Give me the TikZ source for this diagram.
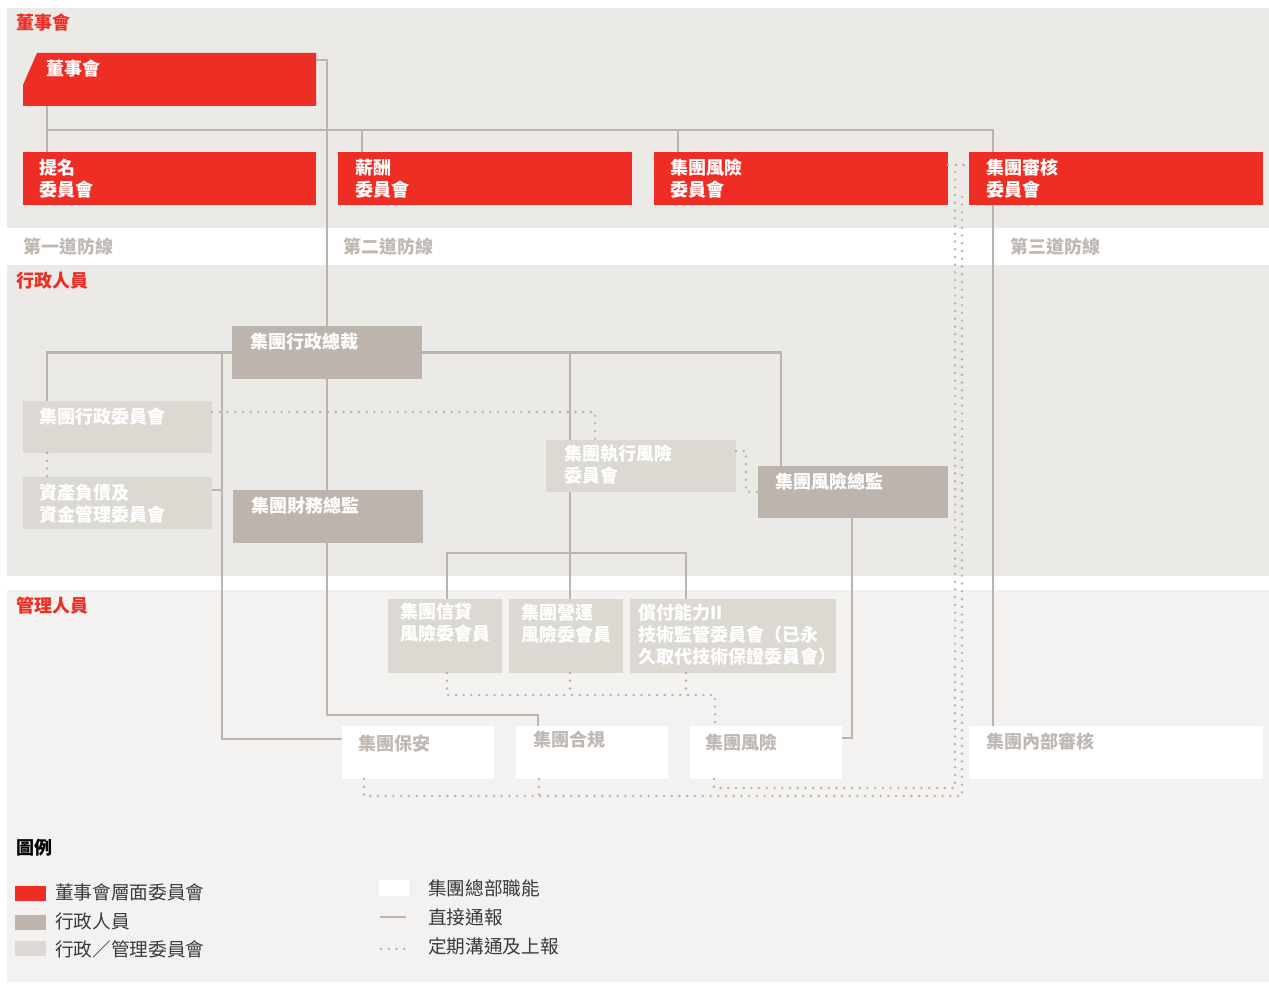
\documentclass[tikz,border=0pt]{standalone}
\usepackage{fontspec}
\setmainfont{Noto Sans CJK TC}
\usetikzlibrary{fit}

\definecolor{boardred}{HTML}{EE2E24}
\definecolor{execgray}{HTML}{BDB4AE}
\definecolor{commgray}{HTML}{DCD9D3}
\definecolor{bandgray}{HTML}{ECEAE6}
\definecolor{mgmtgray}{HTML}{F3F2F0}
\definecolor{linegray}{HTML}{BDB4AE}
\definecolor{dotgray}{HTML}{B8B0AA}
\definecolor{titlegray}{HTML}{C0B9B3}
\definecolor{legendtext}{HTML}{3A3A3A}

\tikzset{
  box/.style={inner sep=0pt, outer sep=0pt},
  redbox/.style={box, fill=boardred},
  execbox/.style={box, fill=execgray},
  commbox/.style={box, fill=commgray},
  hqbox/.style={box, fill=white},
  txt/.style={anchor=north west, inner sep=0pt, align=left, text=white, font=\bfseries\fontsize{13.5}{16.5}\selectfont},
  hqtxt/.style={txt, text=titlegray},
  conn/.style={draw=linegray, line width=1.6pt},
  dots/.style={draw=dotgray, line width=2pt, line cap=round, dash pattern=on 0pt off 5.8pt},
  section/.style={anchor=west, inner sep=0pt, text=boardred, font=\bfseries\fontsize{13.5}{16}\selectfont},
  defence/.style={anchor=west, inner sep=0pt, text=titlegray, font=\bfseries\fontsize{13.5}{16}\selectfont},
  legtxt/.style={anchor=west, inner sep=0pt, text=legendtext, font=\fontsize{14}{16}\selectfont},
}

\begin{document}
\begin{tikzpicture}[x=0.75pt,y=-0.75pt]
\useasboundingbox (0,0) rectangle (1269,984);
% bands
\fill[bandgray] (7,8) rectangle (1269,228);
\fill[bandgray] (7,265) rectangle (1269,576);
\fill[mgmtgray] (7,590) rectangle (1269,982);
\node[section] (sboard) at (16,23) {董事會};
\node[section] (sexec) at (16,281) {行政人員};
\node[section] (smgmt) at (16,606) {管理人員};
\node[defence] (d1) at (23,247) {第一道防線};
\node[defence] (d2) at (343,247) {第二道防線};
\node[defence] (d3) at (1010,247) {第三道防線};

% board and committees
\node[box, fit={(23,53) (316,106)}] (board) {};
\fill[boardred] ([shift={(0,32)}]board.north west) -- ([shift={(14,0)}]board.north west) -- (board.north east) -- (board.south east) -- (board.south west) -- cycle;
\node[redbox, fit={(23,152) (316,205)}] (nom) {};
\node[redbox, fit={(338,152) (632,205)}] (sal) {};
\node[redbox, fit={(654,152) (948,205)}] (grc) {};
\node[redbox, fit={(969,152) (1263,205)}] (acom) {};

% executives
\node[execbox, fit={(232,326) (422,379)}] (ceo) {};
\node[commbox, fit={(23,401) (212,453)}] (gec) {};
\node[commbox, fit={(23,477) (212,529)}] (alc) {};
\node[execbox, fit={(233,490) (423,543)}] (cfo) {};
\node[commbox, fit={(546,440) (736,492)}] (erc) {};
\node[execbox, fit={(758,466) (948,518)}] (cro) {};

% management
\node[commbox, fit={(388,599) (502,673)}] (cred) {};
\node[commbox, fit={(509,599) (623,673)}] (ops) {};
\node[commbox, fit={(630,599) (836,673)}] (solv) {};
\node[hqbox, fit={(342,726) (494,779)}] (sec) {};
\node[hqbox, fit={(516,726) (668,779)}] (comp) {};
\node[hqbox, fit={(690,726) (842,779)}] (risk) {};
\node[hqbox, fit={(969,726) (1263,779)}] (iaud) {};

% labels
\node[txt] (tboard) at ([shift={(23,7)}]board.north west) {董事會};
\node[txt] (tnom) at ([shift={(16,7)}]nom.north west) {提名\\委員會};
\node[txt] (tsal) at ([shift={(17,7)}]sal.north west) {薪酬\\委員會};
\node[txt] (tgrc) at ([shift={(16,7)}]grc.north west) {集團風險\\委員會};
\node[txt] (tacom) at ([shift={(17,7)}]acom.north west) {集團審核\\委員會};
\node[txt] (tceo) at ([shift={(18,7)}]ceo.north west) {集團行政總裁};
\node[txt] (tgec) at ([shift={(16,7)}]gec.north west) {集團行政委員會};
\node[txt] (talc) at ([shift={(16,7)}]alc.north west) {資產負債及\\資金管理委員會};
\node[txt] (tcfo) at ([shift={(18,7)}]cfo.north west) {集團財務總監};
\node[txt] (terc) at ([shift={(18,5)}]erc.north west) {集團執行風險\\委員會};
\node[txt] (tcro) at ([shift={(17,7)}]cro.north west) {集團風險總監};
\node[txt] (tcred) at ([shift={(12,4)}]cred.north west) {集團信貸\\風險委會員};
\node[txt] (tops) at ([shift={(12,5)}]ops.north west) {集團營運\\風險委會員};
\node[txt] (tsolv) at ([shift={(8,5)}]solv.north west) {償付能力II\\技術監管委員會（已永\\久取代技術保證委員會）};
\node[hqtxt] (tsec) at ([shift={(16,9)}]sec.north west) {集團保安};
\node[hqtxt] (tcomp) at ([shift={(17,5)}]comp.north west) {集團合規};
\node[hqtxt] (trisk) at ([shift={(15,8)}]risk.north west) {集團風險};
\node[hqtxt] (tiaud) at ([shift={(17,7)}]iaud.north west) {集團內部審核};

% direct reporting
\coordinate (busL) at ([shift={(24,-22)}]nom.north west);
\coordinate (busR) at ([shift={(24,-22)}]acom.north west);
\draw[conn] (board.south -| busL) -- (nom.north -| busL);
\draw[conn] (busL) -- (busR) -- (acom.north -| busR);
\draw[conn] ([shift={(24,0)}]sal.north west) -- ([shift={(24,-22)}]sal.north west);
\draw[conn] ([shift={(24,0)}]grc.north west) -- ([shift={(24,-22)}]grc.north west);
\draw[conn] (acom.south -| busR) -- (iaud.north -| busR);
\draw[conn] ([shift={(0,7)}]board.north east) -| (ceo.north);
\draw[conn] (ceo.south) -- (ceo.south |- cfo.north);
\draw[conn] (cfo.south -| ceo.south) |- ([shift={(22,-11)}]comp.north west) -- ([shift={(22,0)}]comp.north west);
\draw[conn] (ceo.west) -| ([shift={(24,0)}]gec.north west);
\coordinate (spine) at (ceo.west -| alc.east);
\draw[conn] ([shift={(10,0)}]spine) |- ([shift={(0,13)}]sec.north west);
\draw[conn] ([shift={(0,13)}]alc.north east) -| ([shift={(10,0)}]spine);
\draw[conn] (ceo.east) -| ([shift={(23,0)}]cro.north west);
\coordinate (erx) at (ceo.east -| erc.north west);
\draw[conn] ([shift={(24,0)}]erx) -- ([shift={(24,0)}]erc.north west);
\draw[conn] ([shift={(24,0)}]erc.south west) -- ([shift={(61,0)}]ops.north west);
\draw[conn] ([shift={(59,0)}]cred.north west) |- ([shift={(56,-46)}]solv.north west) -- ([shift={(56,0)}]solv.north west);
\draw[conn] ([shift={(94,0)}]cro.south west) |- ([shift={(0,12)}]risk.north east);

% periodic communication
\draw[dots] ([shift={(0,11)}]gec.north east) -| ([shift={(49,0)}]erc.north west);
\draw[dots] ([shift={(24,0)}]gec.south west) -- ([shift={(24,0)}]alc.north west);
\draw[dots] ([shift={(0,11)}]erc.north east) -- ++(10,0) |- (cro.west);
\draw[dots] ([shift={(59,0)}]cred.south west) |- ([shift={(25,-31)}]risk.north west) -- ([shift={(25,0)}]risk.north west);
\draw[dots] ([shift={(61,0)}]ops.south west) -- ++(0,22);
\draw[dots] ([shift={(56,0)}]solv.south west) -- ++(0,22);
\draw[dots] ([shift={(22,0)}]sec.south west) |- ([shift={(-7,17)}]iaud.south west) |- ([shift={(0,45)}]acom.north west);
\draw[dots] ([shift={(23,0)}]comp.south west) -- ++(0,17);
\draw[dots] ([shift={(24,0)}]risk.south west) |- ([shift={(-14,9)}]iaud.south west) |- ([shift={(0,13)}]acom.north west);
\draw[dots] ([shift={(0,13)}]grc.north east) -- ([shift={(0,13)}]acom.north west);

% legend
\node[anchor=west, inner sep=0pt, font=\bfseries\fontsize{13.5}{16}\selectfont] (legtitle) at (16,848) {圖例};
\node[redbox, fit={(15,886) (46,901)}] (lgred) {};
\node[legtxt] (lgredtxt) at (55,892) {董事會層面委員會};
\node[execbox, fit={(15,915) (46,930)}] (lgexec) {};
\node[legtxt] (lgexectxt) at (55,921) {行政人員};
\node[commbox, fit={(15,941) (46,956)}] (lgcomm) {};
\node[legtxt] (lgcommtxt) at (55,949) {行政／管理委員會};
\node[hqbox, fit={(379,880) (409,896)}] (lghq) {};
\node[legtxt] (lghqtxt) at (428,888) {集團總部職能};
\draw[conn] (380,917) -- (406,917);
\node[legtxt] (lgconntxt) at (428,917) {直接通報};
\draw[dots] (381,949) -- (408,949);
\node[legtxt] (lgdotstxt) at (428,946) {定期溝通及上報};
\end{tikzpicture}
\end{document}
